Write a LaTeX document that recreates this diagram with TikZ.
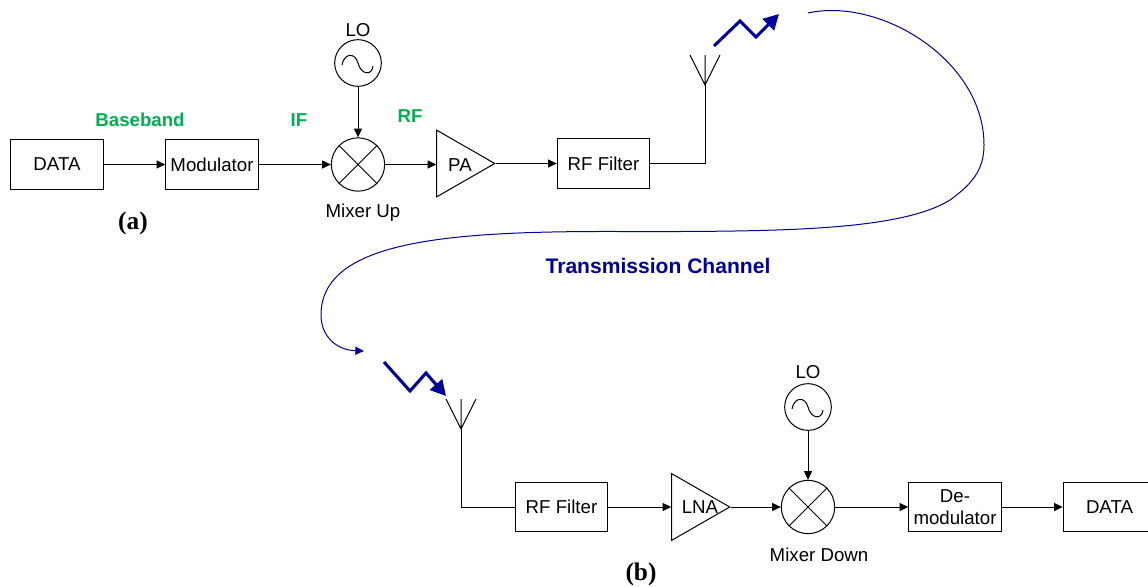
\documentclass[tikz,border=0pt]{standalone}
\usepackage{fontspec}
\setmainfont{Liberation Sans}
\newfontfamily\serifbold{Liberation Serif}
\usetikzlibrary{arrows.meta,shapes.geometric}
\definecolor{navy}{RGB}{0,0,153}
\definecolor{lbl}{RGB}{0,176,80}
\tikzset{
  x=0.75pt,y=-0.75pt,
  blockbox/.style={draw,line width=0.75pt,minimum width=69.5pt,minimum height=37pt,inner sep=0pt,align=center,font=\fontsize{14}{16.5}\selectfont},
  ringnode/.style={draw,circle,line width=0.75pt,inner sep=0pt},
  mixnode/.style={ringnode,minimum size=40pt},
  oscnode/.style={ringnode,minimum size=35pt},
  ampnode/.style={draw,isosceles triangle,isosceles triangle stretches,line width=0.75pt,inner sep=0pt,minimum width=50pt,minimum height=43.5pt},
  txtlabel/.style={inner sep=0pt,font=\fontsize{14}{16}\selectfont},
  smalllabel/.style={inner sep=0pt,font=\fontsize{14}{16}\selectfont},
  bandlabel/.style={inner sep=0pt,text=lbl,font=\fontsize{14}{16}\selectfont\bfseries},
  captionlabel/.style={inner sep=0pt,font=\serifbold\bfseries\fontsize{19}{21}\selectfont},
  wire/.style={line width=0.75pt,-{Triangle[length=6.5pt,width=6pt]}},
  plainline/.style={line width=0.75pt},
  airlink/.style={navy,line width=2.3pt,-{Triangle[length=11.5pt,width=12pt]}},
  chanline/.style={navy,line width=0.75pt},
}
\begin{document}
\begin{tikzpicture}
\useasboundingbox (0,0) rectangle (1148,586);
% transmitter
\node[blockbox] (data1) at (57,164.5) {DATA};
\node[blockbox] (mod) at (212,164.5) {Modulator};
\node[mixnode] (mixu) at (358,164.5) {};
\node[oscnode] (lo1) at (358,63) {};
\node[txtlabel] (lo1t) at (358,30) {LO};
\node[ampnode] (pa) at (456,163.5) {};
\node[txtlabel] (pat) at (460,165) {PA};
\node[blockbox] (rf1) at (603.5,163.5) {RF Filter};
\node[smalllabel] (mixut) at (363,213) {Mixer Up};
\node[bandlabel] (bb) at (140,120) {Baseband};
\node[bandlabel] (if) at (299,120) {IF};
\node[bandlabel] (rf) at (410,116) {RF};
\node[captionlabel] (a) at (133,223.5) {(a)};
\coordinate (ant1) at (705,85);
\coordinate (ant1m) at (705,55);
\coordinate (ant1l) at (690,55);
\coordinate (ant1r) at (720,55);
\draw[wire] (data1) -- (mod);
\draw[wire] (mod) -- (mixu);
\draw[wire] (lo1) -- (mixu);
\draw[wire] (mixu.east) -- (pa.west |- mixu.east);
\draw[wire] (pa.apex) -- (rf1.west);
\draw[plainline] (rf1.east) -| (ant1);
\draw[plainline] (ant1) -- (ant1m) (ant1l) -- (ant1) -- (ant1r);
\draw[plainline] (mixu.45) -- (mixu.225) (mixu.135) -- (mixu.315);
\draw[plainline,shift={(lo1.center)}] (-16,2) .. controls (-14,-10) and (-3,-11) .. (0,0) .. controls (3,12) and (14,13) .. (15,3);
% channel
\coordinate (z1) at (714,46);
\coordinate (z2) at (740,21);
\coordinate (z3) at (756,37);
\coordinate (z4) at (779,14);
\draw[airlink] (z1) -- (z2) -- (z3) -- (z4);
\coordinate (c0) at (808,13);
\coordinate (c1) at (984,145);
\coordinate (c2) at (950,200);
\coordinate (c3) at (680,231.5);
\coordinate (c3b) at (620,231.5);
\coordinate (c4) at (321,315);
\coordinate (c5) at (364,351);
\draw[chanline,-{Triangle[length=6.5pt,width=6pt]}] (c0) .. controls (880,-3) and (984,60) .. (c1)
  .. controls (984,170) and (972,184) .. (c2)
  .. controls (905,228) and (800,231) .. (c3)
  -- (c3b)
  .. controls (450,231) and (321,240) .. (c4)
  .. controls (321,335) and (335,350) .. (c5);
\node[inner sep=0pt,text=navy,font=\fontsize{15.8}{17}\selectfont\bfseries] (tc) at (658,266) {Transmission Channel};
\coordinate (y1) at (384,362);
\coordinate (y2) at (410,391);
\coordinate (y3) at (426,373);
\coordinate (y4) at (446,396);
\draw[airlink] (y1) -- (y2) -- (y3) -- (y4);
% receiver
\coordinate (ant2) at (461,429);
\coordinate (ant2m) at (461,399);
\coordinate (ant2l) at (446,399);
\coordinate (ant2r) at (476,399);
\node[blockbox] (rf2) at (561.5,507) {RF Filter};
\node[ampnode] (lna) at (691,507) {};
\node[txtlabel] (lnat) at (700,507) {LNA};
\node[mixnode] (mixd) at (808,507) {};
\node[oscnode] (lo2) at (808,407) {};
\node[txtlabel] (lo2t) at (808,372) {LO};
\node[blockbox] (dem) at (955,507) {De-\\modulator};
\node[blockbox] (data2) at (1109.5,507) {DATA};
\node[smalllabel] (mixdt) at (819,555) {Mixer Down};
\node[captionlabel] (b) at (641,574) {(b)};
\draw[plainline] (ant2m) -- (ant2) (ant2l) -- (ant2) -- (ant2r);
\draw[plainline] (ant2) |- (rf2.west);
\draw[wire] (rf2) -- (lna.west |- rf2.east);
\draw[wire] (lna.apex) -- (mixd);
\draw[wire] (lo2) -- (mixd);
\draw[wire] (mixd) -- (dem);
\draw[wire] (dem) -- (data2);
\draw[plainline] (mixd.45) -- (mixd.225) (mixd.135) -- (mixd.315);
\draw[plainline,shift={(lo2.center)}] (-16,2) .. controls (-14,-10) and (-3,-11) .. (0,0) .. controls (3,12) and (14,13) .. (15,3);
\end{tikzpicture}
\end{document}
